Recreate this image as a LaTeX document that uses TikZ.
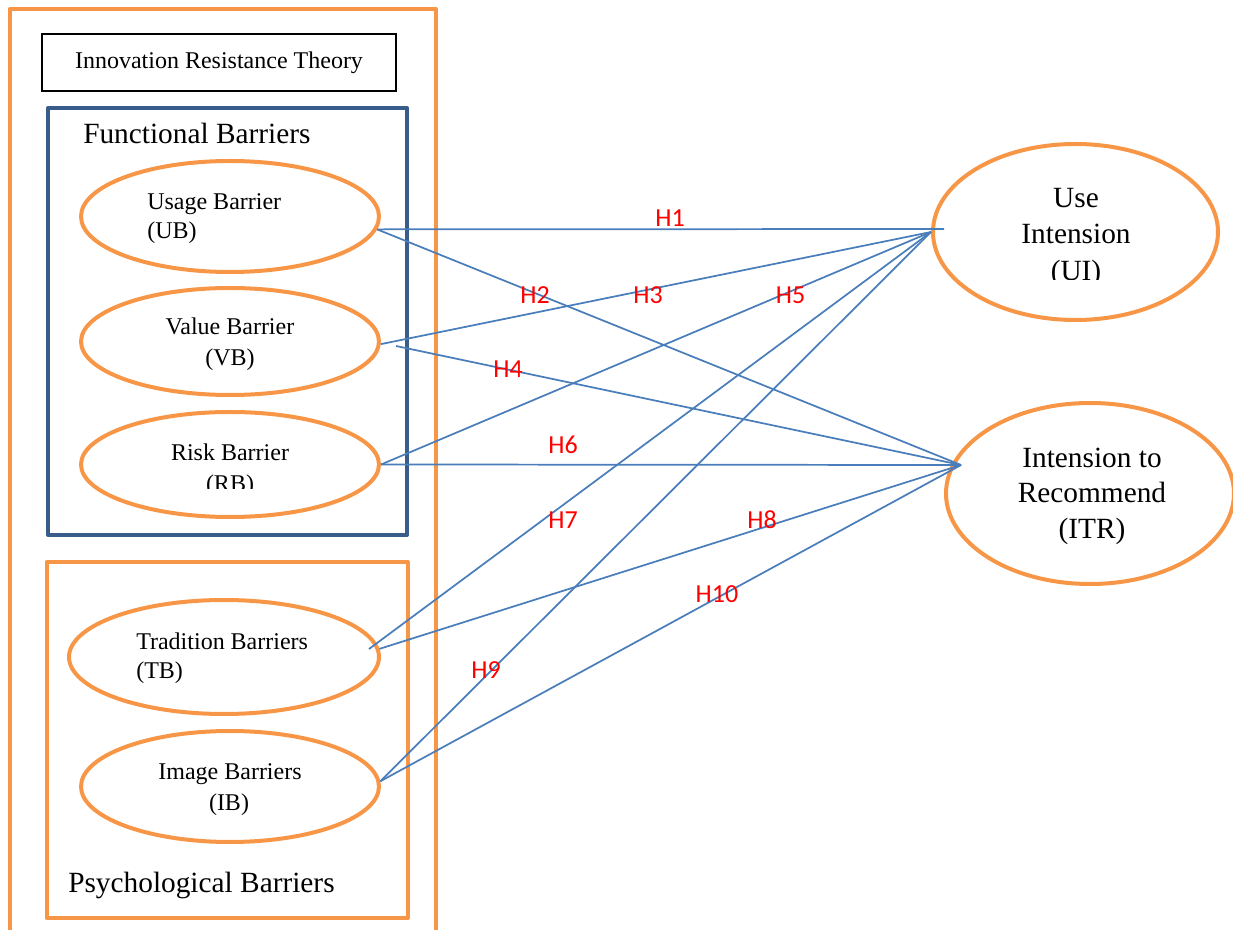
\documentclass[tikz,border=0pt]{standalone}
\usepackage{fontspec}
\setmainfont{Liberation Serif}
\newfontfamily\hypfont{Carlito}
\usetikzlibrary{shapes.geometric,calc}

\definecolor{frameorange}{HTML}{F79646}
\definecolor{frameblue}{HTML}{385D8A}
\definecolor{linkblue}{HTML}{4A7EBB}
\definecolor{hypred}{HTML}{FF0000}

\tikzset{
  frame/.style={line width=3pt, line join=round},
  construct/.style={ellipse, draw=frameorange, line width=3pt, inner sep=0pt},
  lbl/.style={font=\fontsize{18}{22}\selectfont, inner sep=0pt},
  biglbl/.style={font=\fontsize{22}{27}\selectfont, inner sep=0pt},
  hyp/.style={font=\hypfont\fontsize{19.5}{22}\selectfont, text=hypred, inner sep=0pt, anchor=base},
  link/.style={draw=linkblue, line width=1.3pt},
}

\begin{document}
\begin{tikzpicture}[x=0.75pt, y=-0.75pt]
\useasboundingbox (0,0) rectangle (1233,930);
\clip (0,0) rectangle (1233,930);

% group frames
\draw[frame, frameorange] (9.7,9) rectangle (435.5,950);
\draw[frame, frameblue] (48,108) rectangle (407,535);
\draw[frame, frameorange] (46.5,562) rectangle (408,918);

% theory title
\node[draw=black, line width=1.1pt, minimum width=265.5pt, minimum height=42.75pt,
      inner sep=0pt, font=\fontsize{18}{22}\selectfont] (theory) at (219,62.5)
      {Innovation Resistance Theory};

\node[biglbl, anchor=base west] (funct) at (83,144) {Functional Barriers};
\node[biglbl, anchor=base west] (psych) at (68,892) {Psychological Barriers};

% barrier constructs
\node[construct, minimum width=223.5pt, minimum height=83.25pt] (UB) at (230,216.5) {};
\node[construct, minimum width=223.5pt, minimum height=80.25pt] (VB) at (230,341.5) {};
\node[construct, minimum width=223.5pt, minimum height=78.75pt] (RB) at (230,464.5) {};
\node[construct, minimum width=232.5pt, minimum height=85.5pt]  (TB) at (224,657) {};
\node[construct, minimum width=223.5pt, minimum height=83.25pt] (IB) at (230,786.5) {};

% outcome constructs
\node[construct, minimum width=213.75pt, minimum height=132pt]   (UI)  at (1075.5,232) {};
\node[construct, minimum width=216pt,    minimum height=135.75pt] (ITR) at (1090,493.5) {};

% construct labels
\node[lbl, anchor=base west] (UBa) at (147,210) {Usage Barrier};
\node[lbl, anchor=base west] (UBb) at (147,239) {(UB)};
\node[lbl, anchor=base] (VBa) at (230,335) {Value Barrier};
\node[lbl, anchor=base] (VBb) at (230,366) {(VB)};
\node[lbl, anchor=base] (RBa) at (230,461) {Risk Barrier};
\begin{scope}
  \clip (90,470) rectangle (370,489);
  \node[lbl, anchor=base] (RBb) at (230,492) {(RB)};
\end{scope}
\node[lbl, anchor=base west] (TBa) at (136,650) {Tradition Barriers};
\node[lbl, anchor=base west] (TBb) at (136,679) {(TB)};
\node[lbl, anchor=base] (IBa) at (230,779) {Image Barriers};
\node[lbl, anchor=base] (IBb) at (229,810) {(IB)};

\node[biglbl, anchor=base] (UIa) at (1076,208) {Use};
\node[biglbl, anchor=base] (UIb) at (1076,244) {Intension};
\begin{scope}
  \clip (980,255) rectangle (1170,280);
  \node[biglbl, anchor=base] (UIc) at (1076,281) {(UI)};
\end{scope}
\node[biglbl, anchor=base] (ITRa) at (1092,468) {Intension to};
\node[biglbl, anchor=base] (ITRb) at (1092,503) {Recommend};
\node[biglbl, anchor=base] (ITRc) at (1092,539) {(ITR)};

% connector ends
\coordinate (UIend) at ($(UI.west)+(13,-3)$);
\coordinate (ITRin) at ($(ITR.center)+(-129,-28.5)$);
\coordinate (VBtail) at ($(VB.center)+(166,4.5)$);
\coordinate (TBtail) at ($(TB.center)+(145,-8)$);

% hypothesised paths
\draw[link] (UB.-5) -- (UIend);
\draw[link] (UB.-5) -- (ITRin);
\draw[link] (VB.-1.5) -- (UI.west);
\draw[link] (VBtail) -- (ITRin);
\draw[link] (RB.east) -- (UI.west);
\draw[link] (RB.east) -- (ITRin);
\draw[link] (TBtail) -- (UI.west);
\draw[link] (TB.3) -- (ITRin);
\draw[link] (IB.2) -- (UI.west);
\draw[link] (IB.2) -- (ITRin);

% hypothesis labels
\node[hyp] (h1)  at (670,227) {H1};
\node[hyp] (h2)  at (535,304) {H2};
\node[hyp] (h3)  at (648,304) {H3};
\node[hyp] (h5)  at (790.5,304) {H5};
\node[hyp] (h4)  at (508,378) {H4};
\node[hyp] (h6)  at (563,454) {H6};
\node[hyp] (h7)  at (563,529) {H7};
\node[hyp] (h8)  at (762,529) {H8};
\node[hyp] (h10) at (717,603) {H10};
\node[hyp] (h9)  at (486,679) {H9};
\end{tikzpicture}
\end{document}
